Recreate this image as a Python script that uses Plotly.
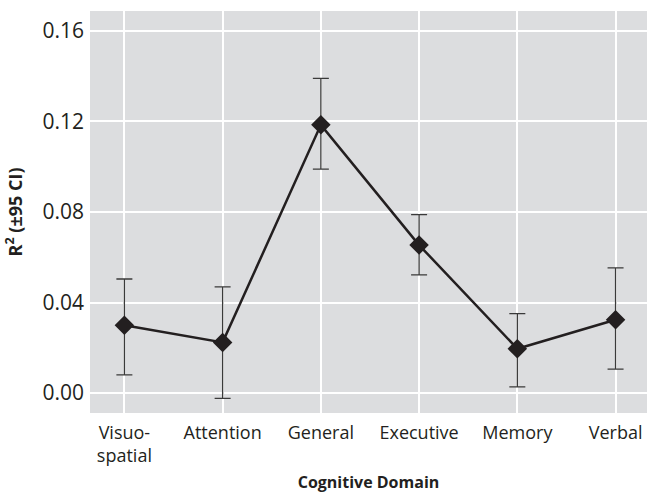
import plotly.graph_objects as go

categories = ["Visuo-<br>spatial", "Attention", "General", "Executive", "Memory", "Verbal"]
r2 = [0.0300, 0.0224, 0.1185, 0.0654, 0.0196, 0.0324]
ci_upper = [0.0504, 0.0469, 0.1390, 0.0788, 0.0351, 0.0553]
ci_lower = [0.0080, -0.0023, 0.0989, 0.0522, 0.0027, 0.0106]
y_ticks = [0.00, 0.04, 0.08, 0.12, 0.16]

err_plus = [u - v for u, v in zip(ci_upper, r2)]
err_minus = [v - l for v, l in zip(r2, ci_lower)]

FONT = "Open Sans"

fig = go.Figure()
fig.add_trace(go.Scatter(
    x=categories, y=r2, mode="lines+markers",
    line=dict(color="#231f20", width=2.5),
    marker=dict(symbol="diamond", size=15, color="#231f20"),
    error_y=dict(type="data", symmetric=False, array=err_plus, arrayminus=err_minus,
                 color="#3a3a3a", thickness=1.3, width=8),
    showlegend=False,
))

fig.update_layout(
    width=659, height=493,
    margin=dict(l=90, r=12, t=11, b=80),
    paper_bgcolor="white", plot_bgcolor="#dcdddf",
    font=dict(family=FONT, color="#231f20"),
    xaxis=dict(
        type="category", range=[-0.35, 5.32], automargin=False,
        showgrid=True, gridcolor="white", gridwidth=1.5,
        tickfont=dict(size=18, family=FONT, color="#231f20"),
        ticks="", showline=False, zeroline=False, ticklabelstandoff=7,
        title=dict(text="<b>Cognitive Domain</b>", font=dict(size=16, family=FONT)),
    ),
    yaxis=dict(
        range=[-0.0088, 0.1688], tickvals=y_ticks, tickformat=".2f", automargin=False,
        showgrid=True, gridcolor="white", gridwidth=1.5,
        tickfont=dict(size=21, family=FONT, color="#231f20"),
        ticks="", showline=False, zeroline=False, ticklabelstandoff=5,
        title=dict(text="<b>R<sup>2</sup> (±95 CI)</b>", font=dict(size=18, family=FONT)),
    ),
)

fig.write_html("out.html")
